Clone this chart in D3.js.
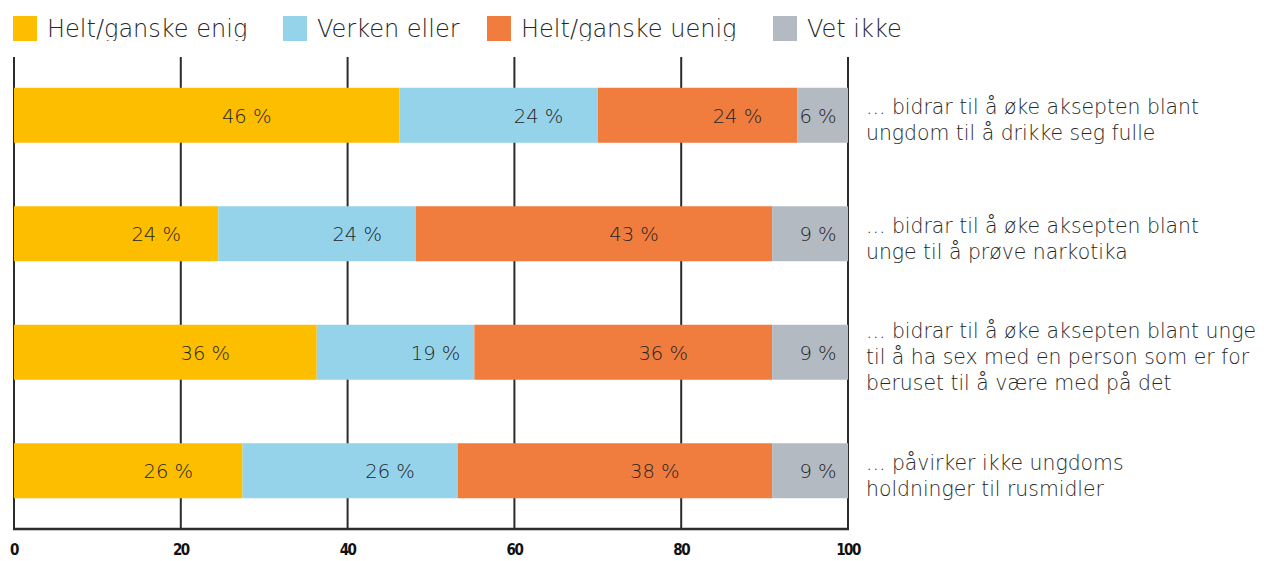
<!DOCTYPE html>
<html><head><meta charset="utf-8">
<script src="https://cdn.jsdelivr.net/npm/d3@7"></script>
<style>
body{margin:0;background:#fff;}
svg{display:block;}
</style></head>
<body>
<svg id="c" width="1264" height="561"></svg>
<script>
const seriesNames = ["Helt/ganske enig","Verken eller","Helt/ganske uenig","Vet ikke"];
const colors = ["#FDBE00","#95D3EB","#F07C3E","#B4BAC1"];
const categories = [
  ["... bidrar til å øke aksepten blant","ungdom til å drikke seg fulle"],
  ["... bidrar til å øke aksepten blant","unge til å prøve narkotika"],
  ["... bidrar til å øke aksepten blant unge","til å ha sex med en person som er for","beruset til å være med på det"],
  ["... påvirker ikke ungdoms","holdninger til rusmidler"]
];
// segment widths as drawn
const enig   = [46.2, 24.5, 36.3, 27.4];
const verken = [23.8, 23.7, 18.9, 25.8];
const uenig  = [23.9, 42.7, 35.7, 37.7];
const vetIkke= [6.1, 9.1, 9.1, 9.1];
// labels as printed
const enigLbl   = ["46 %","24 %","36 %","26 %"];
const verkenLbl = ["24 %","24 %","19 %","26 %"];
const uenigLbl  = ["24 %","43 %","36 %","38 %"];
const vetLbl    = ["6 %","9 %","9 %","9 %"];
const tickValues = [0,20,40,60,80,100];

const svg = d3.select("#c");
const x = d3.scaleLinear().domain([0,100]).range([14,848]);
const y = d3.scalePoint().domain(d3.range(categories.length)).range([56,530]).padding(0.5);
const barH = 55;
const font = "'DejaVu Sans', sans-serif";
const fw = 200;
const txtCol = "#262626";

// gridlines
svg.append("g").selectAll("line").data(tickValues).join("line")
  .attr("x1", d=>x(d)).attr("x2", d=>x(d)).attr("y1",57).attr("y2",530)
  .attr("stroke","#2b2b2b").attr("stroke-width",2);
svg.append("line").attr("x1",x(0)-1).attr("x2",x(100)+1).attr("y1",529).attr("y2",529)
  .attr("stroke","#2b2b2b").attr("stroke-width",2.5);

const vals = [enig, verken, uenig, vetIkke];
const lbls = [enigLbl, verkenLbl, uenigLbl, vetLbl];
const stackData = categories.map((c,i)=>{
  const o = {i}; seriesNames.forEach((s,k)=>o[s]=vals[k][i]); return o;
});
const stack = d3.stack().keys(seriesNames)(stackData);

const g = svg.append("g");
stack.forEach((layer,k)=>{
  g.selectAll(null).data(layer).join("rect")
    .attr("x", d=>x(d[0])).attr("width", d=>x(d[1])-x(d[0]))
    .attr("y", (d,i)=>y(i)-barH/2).attr("height", barH)
    .attr("fill", colors[k]);
  g.selectAll(null).data(layer).join("text")
    .attr("x", d=>Math.min((x(d[0])+x(d[1]))/2+40, x(d[1])-30))
    .attr("y", (d,i)=>y(i)+1)
    .attr("text-anchor","middle").attr("dominant-baseline","central")
    .attr("font-family",font).attr("font-weight",fw).attr("font-size",19.5)
    .attr("fill",txtCol)
    .text((d,i)=>lbls[k][i]);
});

// category labels
categories.forEach((lines,i)=>{
  const t = svg.append("text").attr("font-family",font).attr("font-weight",fw)
    .attr("font-size",20.4).attr("fill",txtCol);
  const lh = 26;
  const y0 = y(i)+5 - (lines.length-1)*lh/2;
  lines.forEach((l,j)=>{
    t.append("tspan").attr("x",866).attr("y",y0+j*lh).attr("dominant-baseline","central").text(l);
  });
});

// tick labels
svg.append("g").selectAll("text").data(tickValues).join("text")
  .attr("x", d=>x(d)).attr("y",550)
  .attr("text-anchor","middle").attr("dominant-baseline","central")
  .attr("font-family","'DejaVu Sans Condensed','DejaVu Sans'").attr("font-weight","bold")
  .attr("font-size",15).attr("letter-spacing",-1.5).attr("fill","#111")
  .text(d=>d);

// legend
const legX = [13, 283, 487, 773];
svg.append("defs").append("clipPath").attr("id","legclip")
  .append("rect").attr("x",0).attr("y",0).attr("width",1264).attr("height",41);
const leg = svg.append("g").attr("clip-path","url(#legclip)");
seriesNames.forEach((s,k)=>{
  leg.append("rect").attr("x",legX[k]).attr("y",16).attr("width",24).attr("height",25).attr("fill",colors[k]);
  leg.append("text").attr("x",legX[k]+34).attr("y",37)
    .attr("font-family",font).attr("font-weight",fw).attr("font-size",24).attr("fill",txtCol)
    .text(s);
});
</script>
</body></html>
